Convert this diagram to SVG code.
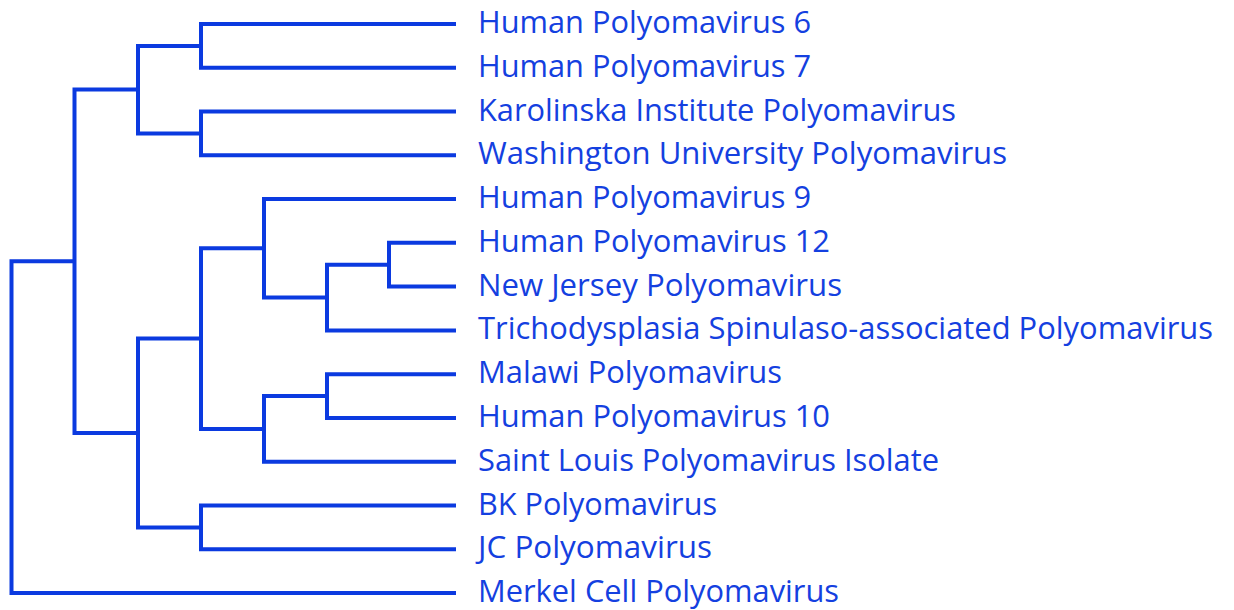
<svg xmlns="http://www.w3.org/2000/svg" width="1234" height="610" viewBox="0 0 1234 610">
  <style>
    .br { fill: none; stroke: #0b3ae0; stroke-width: 4; stroke-linejoin: miter; stroke-linecap: butt; }
    .lbl { font-family: "Open Sans", "Noto Sans", sans-serif; font-size: 31px; fill: #1440e0; }
  </style>
  <rect width="1234" height="610" fill="#ffffff"/>
  <g id="connectors">
    <!-- A: HPyV6 / HPyV7 -->
    <path class="br" d="M456 24 H201 V67.8 H456"/>
    <!-- B: KI / WU -->
    <path class="br" d="M456 111.5 H201 V155.3 H456"/>
    <!-- C: A / B -->
    <path class="br" d="M201 45.9 H138 V133.4 H201"/>
    <!-- D: HPyV12 / NJ -->
    <path class="br" d="M456 242.8 H389 V286.6 H456"/>
    <!-- E: D / TS -->
    <path class="br" d="M389 264.7 H327 V330.4 H456"/>
    <!-- F: HPyV9 / E -->
    <path class="br" d="M456 199.1 H264 V297.6 H327"/>
    <!-- G: Malawi / HPyV10 -->
    <path class="br" d="M456 374.2 H327 V417.9 H456"/>
    <!-- H: G / STL -->
    <path class="br" d="M327 396 H264 V461.7 H456"/>
    <!-- I: F / H -->
    <path class="br" d="M264 248.3 H201 V428.9 H264"/>
    <!-- J: BK / JC -->
    <path class="br" d="M456 505.5 H201 V549.2 H456"/>
    <!-- K: I / J -->
    <path class="br" d="M201 338.6 H138 V527.4 H201"/>
    <!-- L: C / K -->
    <path class="br" d="M138 89.6 H74.5 V433 H138"/>
    <!-- Root: L / MCPyV -->
    <path class="br" d="M74.5 261.3 H11.5 V593 H456"/>
  </g>
  <g id="hpyv6"><text class="lbl" x="478" y="33" textLength="333" lengthAdjust="spacingAndGlyphs">Human Polyomavirus 6</text></g>
  <g id="hpyv7"><text class="lbl" x="478" y="76.8" textLength="333" lengthAdjust="spacingAndGlyphs">Human Polyomavirus 7</text></g>
  <g id="kipyv"><text class="lbl" x="478" y="120.5" textLength="478" lengthAdjust="spacingAndGlyphs">Karolinska Institute Polyomavirus</text></g>
  <g id="wupyv"><text class="lbl" x="478" y="164.3" textLength="529" lengthAdjust="spacingAndGlyphs">Washington University Polyomavirus</text></g>
  <g id="hpyv9"><text class="lbl" x="478" y="208.1" textLength="333" lengthAdjust="spacingAndGlyphs">Human Polyomavirus 9</text></g>
  <g id="hpyv12"><text class="lbl" x="478" y="251.8" textLength="352" lengthAdjust="spacingAndGlyphs">Human Polyomavirus 12</text></g>
  <g id="njpyv"><text class="lbl" x="478" y="295.6" textLength="364" lengthAdjust="spacingAndGlyphs">New Jersey Polyomavirus</text></g>
  <g id="tspyv"><text class="lbl" x="478" y="339.4" textLength="735" lengthAdjust="spacingAndGlyphs">Trichodysplasia Spinulaso-associated Polyomavirus</text></g>
  <g id="mwpyv"><text class="lbl" x="478" y="383.2" textLength="304" lengthAdjust="spacingAndGlyphs">Malawi Polyomavirus</text></g>
  <g id="hpyv10"><text class="lbl" x="478" y="426.9" textLength="352" lengthAdjust="spacingAndGlyphs">Human Polyomavirus 10</text></g>
  <g id="stlpyv"><text class="lbl" x="478" y="470.7" textLength="461" lengthAdjust="spacingAndGlyphs">Saint Louis Polyomavirus Isolate</text></g>
  <g id="bkpyv"><text class="lbl" x="478" y="514.5" textLength="239" lengthAdjust="spacingAndGlyphs">BK Polyomavirus</text></g>
  <g id="jcpyv"><text class="lbl" x="478" y="558.2" textLength="234" lengthAdjust="spacingAndGlyphs">JC Polyomavirus</text></g>
  <g id="mcpyv"><text class="lbl" x="478" y="602" textLength="361" lengthAdjust="spacingAndGlyphs">Merkel Cell Polyomavirus</text></g>
</svg>
